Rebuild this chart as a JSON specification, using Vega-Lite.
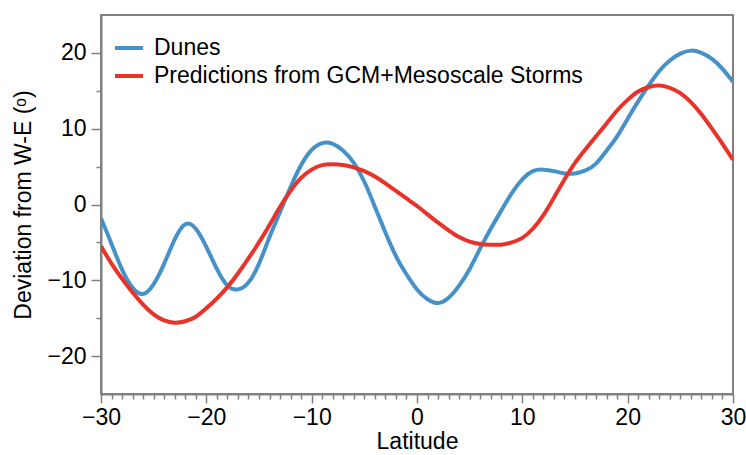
{
  "$schema": "https://vega.github.io/schema/vega-lite/v6.json",
  "width": 632,
  "height": 379,
  "autosize": {"type": "none"},
  "padding": {"left": 101, "top": 15, "right": 13, "bottom": 61},
  "background": "white",
  "config": {
    "view": {"stroke": "#808080", "strokeWidth": 2},
    "font": "Liberation Sans"
  },
  "datasets": {
    "dunes": [
      {"lat": -30, "dev": -1.8}, {"lat": -29, "dev": -5.2}, {"lat": -28, "dev": -8.6}, {"lat": -27, "dev": -11.0},
      {"lat": -26, "dev": -11.8}, {"lat": -25, "dev": -10.5}, {"lat": -24, "dev": -7.8}, {"lat": -23, "dev": -4.6},
      {"lat": -22, "dev": -2.6}, {"lat": -21, "dev": -3.2}, {"lat": -20, "dev": -5.6}, {"lat": -19, "dev": -8.5},
      {"lat": -18, "dev": -10.7}, {"lat": -17, "dev": -11.2}, {"lat": -16, "dev": -10.3}, {"lat": -15, "dev": -7.8},
      {"lat": -14, "dev": -4.3}, {"lat": -13, "dev": -1.0}, {"lat": -12, "dev": 2.3}, {"lat": -11, "dev": 5.2},
      {"lat": -10, "dev": 7.2}, {"lat": -9, "dev": 8.1}, {"lat": -8, "dev": 8.0}, {"lat": -7, "dev": 7.1},
      {"lat": -6, "dev": 5.5}, {"lat": -5, "dev": 3.0}, {"lat": -4, "dev": -0.3}, {"lat": -3, "dev": -3.7},
      {"lat": -2, "dev": -6.8}, {"lat": -1, "dev": -9.2}, {"lat": 0, "dev": -11.2}, {"lat": 1, "dev": -12.5},
      {"lat": 2, "dev": -13.0}, {"lat": 3, "dev": -12.3}, {"lat": 4, "dev": -10.7}, {"lat": 5, "dev": -8.5},
      {"lat": 6, "dev": -5.8}, {"lat": 7, "dev": -3.2}, {"lat": 8, "dev": -0.8}, {"lat": 9, "dev": 1.5},
      {"lat": 10, "dev": 3.3}, {"lat": 11, "dev": 4.4}, {"lat": 12, "dev": 4.6}, {"lat": 13, "dev": 4.4},
      {"lat": 14, "dev": 4.1}, {"lat": 15, "dev": 4.1}, {"lat": 16, "dev": 4.5}, {"lat": 17, "dev": 5.4},
      {"lat": 18, "dev": 7.1}, {"lat": 19, "dev": 9.0}, {"lat": 20, "dev": 11.3}, {"lat": 21, "dev": 13.6},
      {"lat": 22, "dev": 15.7}, {"lat": 23, "dev": 17.6}, {"lat": 24, "dev": 19.0}, {"lat": 25, "dev": 19.9},
      {"lat": 26, "dev": 20.3}, {"lat": 27, "dev": 20.0}, {"lat": 28, "dev": 19.2}, {"lat": 29, "dev": 17.9},
      {"lat": 30, "dev": 16.2}
    ],
    "pred": [
      {"lat": -30, "dev": -5.5}, {"lat": -29, "dev": -7.8}, {"lat": -28, "dev": -9.8}, {"lat": -27, "dev": -11.6},
      {"lat": -26, "dev": -13.2}, {"lat": -25, "dev": -14.5}, {"lat": -24, "dev": -15.3}, {"lat": -23, "dev": -15.6},
      {"lat": -22, "dev": -15.4}, {"lat": -21, "dev": -14.8}, {"lat": -20, "dev": -13.7}, {"lat": -19, "dev": -12.4},
      {"lat": -18, "dev": -10.9}, {"lat": -17, "dev": -9.1}, {"lat": -16, "dev": -7.1}, {"lat": -15, "dev": -5.0},
      {"lat": -14, "dev": -2.7}, {"lat": -13, "dev": -0.3}, {"lat": -12, "dev": 1.8}, {"lat": -11, "dev": 3.5},
      {"lat": -10, "dev": 4.6}, {"lat": -9, "dev": 5.2}, {"lat": -8, "dev": 5.3}, {"lat": -7, "dev": 5.2},
      {"lat": -6, "dev": 4.9}, {"lat": -5, "dev": 4.4}, {"lat": -4, "dev": 3.7}, {"lat": -3, "dev": 2.8},
      {"lat": -2, "dev": 1.8}, {"lat": -1, "dev": 0.8}, {"lat": 0, "dev": -0.2}, {"lat": 1, "dev": -1.3},
      {"lat": 2, "dev": -2.4}, {"lat": 3, "dev": -3.4}, {"lat": 4, "dev": -4.3}, {"lat": 5, "dev": -4.9},
      {"lat": 6, "dev": -5.2}, {"lat": 7, "dev": -5.3}, {"lat": 8, "dev": -5.3}, {"lat": 9, "dev": -5.0},
      {"lat": 10, "dev": -4.4}, {"lat": 11, "dev": -3.2}, {"lat": 12, "dev": -1.4}, {"lat": 13, "dev": 0.9},
      {"lat": 14, "dev": 3.3}, {"lat": 15, "dev": 5.5}, {"lat": 16, "dev": 7.3}, {"lat": 17, "dev": 9.0},
      {"lat": 18, "dev": 10.7}, {"lat": 19, "dev": 12.4}, {"lat": 20, "dev": 13.8}, {"lat": 21, "dev": 14.9},
      {"lat": 22, "dev": 15.5}, {"lat": 23, "dev": 15.7}, {"lat": 24, "dev": 15.4}, {"lat": 25, "dev": 14.7},
      {"lat": 26, "dev": 13.5}, {"lat": 27, "dev": 11.9}, {"lat": 28, "dev": 10.0}, {"lat": 29, "dev": 8.0},
      {"lat": 30, "dev": 5.9}
    ]
  },
  "layer": [
    {
      "data": {"name": "dunes"},
      "transform": [{"calculate": "'Dunes'", "as": "series"}],
      "mark": {"type": "line", "interpolate": "natural", "strokeWidth": 4, "clip": true},
      "encoding": {
        "x": {"field": "lat", "type": "quantitative"},
        "y": {"field": "dev", "type": "quantitative"},
        "color": {"field": "series", "type": "nominal"}
      }
    },
    {
      "data": {"name": "pred"},
      "transform": [{"calculate": "'Predictions from GCM+Mesoscale Storms'", "as": "series"}],
      "mark": {"type": "line", "interpolate": "natural", "strokeWidth": 4, "clip": true},
      "encoding": {
        "x": {"field": "lat", "type": "quantitative"},
        "y": {"field": "dev", "type": "quantitative"},
        "color": {"field": "series", "type": "nominal"}
      }
    }
  ],
  "encoding": {
    "x": {
      "field": "lat", "type": "quantitative", "title": "Latitude",
      "scale": {"domain": [-30, 30], "nice": false, "zero": false},
      "axis": {
        "values": [-30,-29,-28,-27,-26,-25,-24,-23,-22,-21,-20,-19,-18,-17,-16,-15,-14,-13,-12,-11,-10,-9,-8,-7,-6,-5,-4,-3,-2,-1,0,1,2,3,4,5,6,7,8,9,10,11,12,13,14,15,16,17,18,19,20,21,22,23,24,25,26,27,28,29,30],
        "labelExpr": "datum.value % 10 === 0 ? datum.label : ''",
        "tickSize": {"condition": {"test": "datum.value % 10 === 0", "value": 9}, "value": 5},
        "grid": false, "domainColor": "#808080", "domainWidth": 2, "tickColor": "#808080", "tickWidth": 1.5,
        "labelFontSize": 23, "labelColor": "black", "labelPadding": 3, "labelFlush": false, "labelOverlap": false,
        "titleFontSize": 23, "titleFontWeight": "normal", "titleColor": "black", "titlePadding": 1
      }
    },
    "y": {
      "field": "dev", "type": "quantitative", "title": "Deviation from W-E (ᵒ)",
      "scale": {"domain": [-25, 25], "nice": false, "zero": false},
      "axis": {
        "values": [-20,-15,-10,-5,0,5,10,15,20],
        "labelExpr": "datum.value % 10 === 0 ? datum.label : ''",
        "tickSize": {"condition": {"test": "datum.value % 10 === 0", "value": 10}, "value": 5},
        "grid": false, "domainColor": "#808080", "domainWidth": 2, "tickColor": "#808080", "tickWidth": 1.5,
        "labelFontSize": 23, "labelColor": "black", "labelPadding": 5, "labelOverlap": false,
        "titleFontSize": 23, "titleFontWeight": "normal", "titleColor": "black", "titlePadding": 11
      }
    },
    "color": {
      "field": "series", "type": "nominal",
      "scale": {"domain": ["Dunes", "Predictions from GCM+Mesoscale Storms"], "range": ["#4692c8", "#e8332a"]},
      "legend": {
        "title": null, "orient": "none", "legendX": 12, "legendY": 17, "padding": 0,
        "symbolType": "stroke", "symbolSize": 784, "symbolStrokeWidth": 4,
        "labelFontSize": 23, "labelColor": "black", "labelOffset": 9, "rowPadding": 0, "labelLimit": 0
      }
    }
  }
}
